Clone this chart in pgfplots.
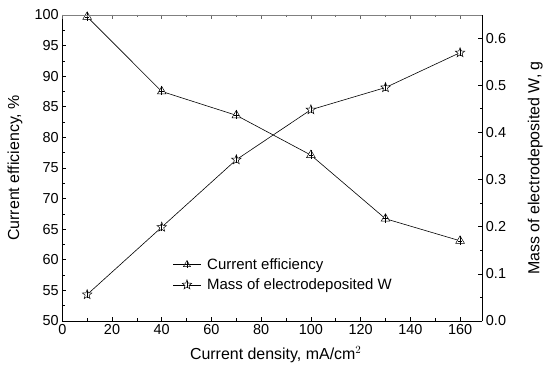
\documentclass[border=0pt]{standalone}
\usepackage{pgfplots}
\pgfplotsset{compat=1.18}
\usepackage{fontspec}
\setmainfont{Liberation Sans}
\pgfdeclareplotmark{ctri}{%
  \pgfpathmoveto{\pgfqpoint{0pt}{\pgfplotmarksize}}%
  \pgfpathlineto{\pgfqpoint{-0.866\pgfplotmarksize}{-0.5\pgfplotmarksize}}%
  \pgfpathlineto{\pgfqpoint{0.866\pgfplotmarksize}{-0.5\pgfplotmarksize}}%
  \pgfpathclose
  \pgfusepathqfillstroke
  \pgfpathmoveto{\pgfqpoint{0pt}{\pgfplotmarksize}}%
  \pgfpathlineto{\pgfqpoint{0pt}{-0.8\pgfplotmarksize}}%
  \pgfpathmoveto{\pgfqpoint{-0.45\pgfplotmarksize}{0pt}}%
  \pgfpathlineto{\pgfqpoint{0.45\pgfplotmarksize}{0pt}}%
  \pgfusepathqstroke
}
\pgfdeclareplotmark{ostar}{%
  \pgfpathmoveto{\pgfqpointpolar{90}{\pgfplotmarksize}}%
  \pgfpathlineto{\pgfqpointpolar{126}{0.42\pgfplotmarksize}}%
  \pgfpathlineto{\pgfqpointpolar{162}{\pgfplotmarksize}}%
  \pgfpathlineto{\pgfqpointpolar{198}{0.42\pgfplotmarksize}}%
  \pgfpathlineto{\pgfqpointpolar{234}{\pgfplotmarksize}}%
  \pgfpathlineto{\pgfqpointpolar{270}{0.42\pgfplotmarksize}}%
  \pgfpathlineto{\pgfqpointpolar{306}{\pgfplotmarksize}}%
  \pgfpathlineto{\pgfqpointpolar{342}{0.42\pgfplotmarksize}}%
  \pgfpathlineto{\pgfqpointpolar{18}{\pgfplotmarksize}}%
  \pgfpathlineto{\pgfqpointpolar{54}{0.42\pgfplotmarksize}}%
  \pgfpathclose
  \pgfusepathqfillstroke
  \pgfpathmoveto{\pgfqpoint{0pt}{0.7\pgfplotmarksize}}%
  \pgfpathlineto{\pgfqpoint{0pt}{-0.7\pgfplotmarksize}}%
  \pgfusepathqstroke
}
\begin{document}
\begin{tikzpicture}
\pgfplotsset{
  base/.style={
    scale only axis, width=421.5pt, height=307pt,
    xmin=0, xmax=169,
    tick align=inside,
    major tick length=4pt, minor tick length=2.5pt,
    /pgf/number format/assume math mode=true,
    tick label style={font=\fontsize{14.5}{16}\selectfont},
    label style={font=\fontsize{16}{18}\selectfont},
    every axis plot/.append style={black, line width=0.6pt},
  }
}
\begin{axis}[base,
  axis y line*=left,
  ymin=50, ymax=100,
  ytick={50,55,...,100},
  minor y tick num=1,
  xtick={0,20,...,160},
  minor x tick num=1,
  xlabel={Current density, mA/cm$^2$},
  ylabel={Current efficiency, \%},
  xlabel style={at={(axis description cs:0.508,-0.1107)}, anchor=center},
  ylabel style={at={(axis description cs:-0.1127,0.5)}, anchor=center},
  axis line style={line width=0.7pt},
  tick style={black, line width=0.6pt},
]
\addplot[mark=ctri, mark size=5pt, mark options={fill=white, solid, line width=0.5pt}] coordinates {
(10,99.7) (40,87.5) (70,83.6) (100,77.1) (130,66.7) (160,63.1)
};
\end{axis}
\begin{axis}[base,
  axis y line*=right,
  axis x line=none,
  ymin=0, ymax=0.649,
  ytick={0,0.1,...,0.6},
  minor y tick num=1,
  yticklabel style={/pgf/number format/.cd, fixed, fixed zerofill, precision=1},
  ylabel={Mass of electrodeposited W, g},
  ylabel style={at={(axis description cs:1.1257,0.5)}, anchor=center},
  axis line style={line width=0.7pt},
  tick style={black, line width=0.6pt},
  legend style={draw=none, fill=none, at={(0.26,0.215)}, anchor=north west,
    font=\fontsize{15}{17}\selectfont, row sep=4pt, inner sep=1pt,
    /tikz/every odd column/.append style={column sep=4pt}},
  legend cell align=left,
  legend image code/.code={\draw[mark repeat=2, mark phase=2, #1] plot coordinates {(0pt,0pt) (14pt,0pt) (28pt,0pt)};},
]
\addlegendimage{black, line width=0.6pt, mark=ctri, mark size=4pt, mark options={fill=white, line width=0.5pt}}
\addlegendentry{Current efficiency}
\addplot[mark=ostar, mark size=5pt, mark options={fill=white, solid, line width=0.5pt}] coordinates {
(10,0.056) (40,0.199) (70,0.342) (100,0.448) (130,0.495) (160,0.569)
};
\addlegendentry{Mass of electrodeposited W}
\end{axis}
% top border
\begin{axis}[base, axis x line*=top, axis y line=none, ymin=50, ymax=100,
  xtick={0,20,...,160}, minor x tick num=1, xticklabels={},
  axis line style={line width=0.7pt, gray}, tick style={gray!80!black, line width=0.6pt}]
\path (rel axis cs:0,0) ++(-62.5pt,-54pt) coordinate (bbA);
\path (rel axis cs:1,1) ++(62pt,15pt) coordinate (bbB);
\end{axis}
\useasboundingbox (bbA) rectangle (bbB);
\end{tikzpicture}
\end{document}
